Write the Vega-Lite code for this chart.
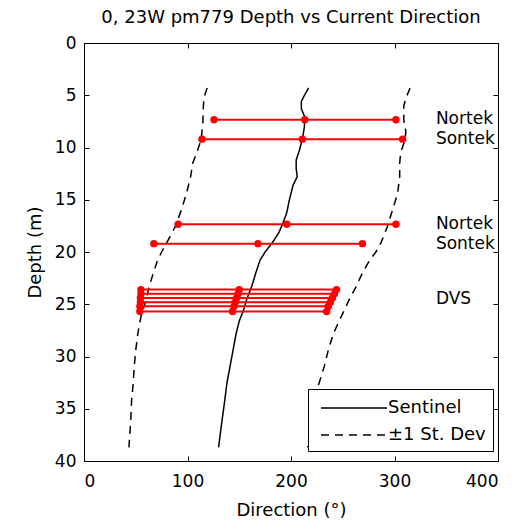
{
  "$schema": "https://vega.github.io/schema/vega-lite/v6.json",
  "width": 414,
  "height": 418,
  "autosize": "none",
  "padding": {"left": 84, "top": 43, "right": 29, "bottom": 61},
  "background": "white",
  "title": {"text": "0, 23W pm779 Depth vs Current Direction", "font": "DejaVu Sans", "fontSize": 18, "fontWeight": "normal", "color": "black", "offset": 7, "anchor": "middle"},
  "config": {
    "view": {"stroke": "black", "strokeWidth": 1},
    "axis": {"grid": false, "domainColor": "black", "tickColor": "black", "labelColor": "black", "titleColor": "black", "labelFont": "DejaVu Sans", "labelFontSize": 17, "titleFont": "DejaVu Sans", "titleFontSize": 18, "titleFontWeight": "normal", "tickSize": -5, "domain": true}
  },
  "datasets": {
    "profiles": [
      {"curve": "mean", "kind": "Sentinel", "depth": 4.3, "dir": 217},
      {"curve": "mean", "kind": "Sentinel", "depth": 5.0, "dir": 213},
      {"curve": "mean", "kind": "Sentinel", "depth": 5.6, "dir": 210},
      {"curve": "mean", "kind": "Sentinel", "depth": 6.3, "dir": 210},
      {"curve": "mean", "kind": "Sentinel", "depth": 7.0, "dir": 213},
      {"curve": "mean", "kind": "Sentinel", "depth": 8.0, "dir": 213},
      {"curve": "mean", "kind": "Sentinel", "depth": 9.2, "dir": 211},
      {"curve": "mean", "kind": "Sentinel", "depth": 10.3, "dir": 208},
      {"curve": "mean", "kind": "Sentinel", "depth": 11.2, "dir": 205},
      {"curve": "mean", "kind": "Sentinel", "depth": 12.0, "dir": 205},
      {"curve": "mean", "kind": "Sentinel", "depth": 12.8, "dir": 206},
      {"curve": "mean", "kind": "Sentinel", "depth": 13.6, "dir": 202},
      {"curve": "mean", "kind": "Sentinel", "depth": 14.4, "dir": 200},
      {"curve": "mean", "kind": "Sentinel", "depth": 15.2, "dir": 198},
      {"curve": "mean", "kind": "Sentinel", "depth": 16.2, "dir": 196},
      {"curve": "mean", "kind": "Sentinel", "depth": 17.3, "dir": 192},
      {"curve": "mean", "kind": "Sentinel", "depth": 18.2, "dir": 188},
      {"curve": "mean", "kind": "Sentinel", "depth": 19.1, "dir": 182},
      {"curve": "mean", "kind": "Sentinel", "depth": 20.0, "dir": 175},
      {"curve": "mean", "kind": "Sentinel", "depth": 20.8, "dir": 170},
      {"curve": "mean", "kind": "Sentinel", "depth": 22.0, "dir": 166},
      {"curve": "mean", "kind": "Sentinel", "depth": 23.3, "dir": 162},
      {"curve": "mean", "kind": "Sentinel", "depth": 24.6, "dir": 157},
      {"curve": "mean", "kind": "Sentinel", "depth": 25.6, "dir": 154},
      {"curve": "mean", "kind": "Sentinel", "depth": 26.6, "dir": 150},
      {"curve": "mean", "kind": "Sentinel", "depth": 27.8, "dir": 147},
      {"curve": "mean", "kind": "Sentinel", "depth": 29.4, "dir": 144},
      {"curve": "mean", "kind": "Sentinel", "depth": 31.0, "dir": 141},
      {"curve": "mean", "kind": "Sentinel", "depth": 32.6, "dir": 138},
      {"curve": "mean", "kind": "Sentinel", "depth": 34.2, "dir": 136},
      {"curve": "mean", "kind": "Sentinel", "depth": 36.4, "dir": 133},
      {"curve": "mean", "kind": "Sentinel", "depth": 38.7, "dir": 130},
      {"curve": "lo", "kind": "±1 St. Dev", "depth": 4.3, "dir": 119},
      {"curve": "lo", "kind": "±1 St. Dev", "depth": 5.2, "dir": 116},
      {"curve": "lo", "kind": "±1 St. Dev", "depth": 6.5, "dir": 115},
      {"curve": "lo", "kind": "±1 St. Dev", "depth": 7.4, "dir": 115},
      {"curve": "lo", "kind": "±1 St. Dev", "depth": 8.5, "dir": 114},
      {"curve": "lo", "kind": "±1 St. Dev", "depth": 9.3, "dir": 113},
      {"curve": "lo", "kind": "±1 St. Dev", "depth": 10.5, "dir": 109},
      {"curve": "lo", "kind": "±1 St. Dev", "depth": 11.5, "dir": 105},
      {"curve": "lo", "kind": "±1 St. Dev", "depth": 12.8, "dir": 103},
      {"curve": "lo", "kind": "±1 St. Dev", "depth": 14.4, "dir": 99},
      {"curve": "lo", "kind": "±1 St. Dev", "depth": 16.0, "dir": 94},
      {"curve": "lo", "kind": "±1 St. Dev", "depth": 17.6, "dir": 88},
      {"curve": "lo", "kind": "±1 St. Dev", "depth": 19.1, "dir": 80},
      {"curve": "lo", "kind": "±1 St. Dev", "depth": 20.0, "dir": 75},
      {"curve": "lo", "kind": "±1 St. Dev", "depth": 20.8, "dir": 71},
      {"curve": "lo", "kind": "±1 St. Dev", "depth": 22.0, "dir": 67},
      {"curve": "lo", "kind": "±1 St. Dev", "depth": 23.3, "dir": 63},
      {"curve": "lo", "kind": "±1 St. Dev", "depth": 24.6, "dir": 60},
      {"curve": "lo", "kind": "±1 St. Dev", "depth": 26.2, "dir": 55},
      {"curve": "lo", "kind": "±1 St. Dev", "depth": 27.8, "dir": 52},
      {"curve": "lo", "kind": "±1 St. Dev", "depth": 29.4, "dir": 50},
      {"curve": "lo", "kind": "±1 St. Dev", "depth": 31.0, "dir": 48.5},
      {"curve": "lo", "kind": "±1 St. Dev", "depth": 32.6, "dir": 47.5},
      {"curve": "lo", "kind": "±1 St. Dev", "depth": 34.2, "dir": 46},
      {"curve": "lo", "kind": "±1 St. Dev", "depth": 36.4, "dir": 45},
      {"curve": "lo", "kind": "±1 St. Dev", "depth": 38.7, "dir": 43.4},
      {"curve": "hi", "kind": "±1 St. Dev", "depth": 4.3, "dir": 315},
      {"curve": "hi", "kind": "±1 St. Dev", "depth": 5.3, "dir": 311},
      {"curve": "hi", "kind": "±1 St. Dev", "depth": 6.0, "dir": 309},
      {"curve": "hi", "kind": "±1 St. Dev", "depth": 7.4, "dir": 309},
      {"curve": "hi", "kind": "±1 St. Dev", "depth": 8.5, "dir": 311},
      {"curve": "hi", "kind": "±1 St. Dev", "depth": 9.3, "dir": 310},
      {"curve": "hi", "kind": "±1 St. Dev", "depth": 10.5, "dir": 306},
      {"curve": "hi", "kind": "±1 St. Dev", "depth": 11.5, "dir": 305},
      {"curve": "hi", "kind": "±1 St. Dev", "depth": 12.8, "dir": 305},
      {"curve": "hi", "kind": "±1 St. Dev", "depth": 14.4, "dir": 303},
      {"curve": "hi", "kind": "±1 St. Dev", "depth": 16.0, "dir": 298},
      {"curve": "hi", "kind": "±1 St. Dev", "depth": 17.6, "dir": 293},
      {"curve": "hi", "kind": "±1 St. Dev", "depth": 19.1, "dir": 287},
      {"curve": "hi", "kind": "±1 St. Dev", "depth": 20.0, "dir": 282},
      {"curve": "hi", "kind": "±1 St. Dev", "depth": 20.8, "dir": 276},
      {"curve": "hi", "kind": "±1 St. Dev", "depth": 22.0, "dir": 269},
      {"curve": "hi", "kind": "±1 St. Dev", "depth": 23.3, "dir": 263},
      {"curve": "hi", "kind": "±1 St. Dev", "depth": 24.6, "dir": 256},
      {"curve": "hi", "kind": "±1 St. Dev", "depth": 26.5, "dir": 247},
      {"curve": "hi", "kind": "±1 St. Dev", "depth": 27.8, "dir": 241},
      {"curve": "hi", "kind": "±1 St. Dev", "depth": 29.4, "dir": 236},
      {"curve": "hi", "kind": "±1 St. Dev", "depth": 31.0, "dir": 232},
      {"curve": "hi", "kind": "±1 St. Dev", "depth": 32.9, "dir": 226},
      {"curve": "hi", "kind": "±1 St. Dev", "depth": 35.0, "dir": 222},
      {"curve": "hi", "kind": "±1 St. Dev", "depth": 38.7, "dir": 216}
    ],
    "instruments": [
      {"id": "N1", "depth": 7.35, "dir": 125.6},
      {"id": "N1", "depth": 7.35, "dir": 213.3},
      {"id": "N1", "depth": 7.35, "dir": 301.4},
      {"id": "S1", "depth": 9.2, "dir": 114},
      {"id": "S1", "depth": 9.2, "dir": 211},
      {"id": "S1", "depth": 9.2, "dir": 307.8},
      {"id": "N2", "depth": 17.35, "dir": 90.9},
      {"id": "N2", "depth": 17.35, "dir": 196},
      {"id": "N2", "depth": 17.35, "dir": 301.4},
      {"id": "S2", "depth": 19.2, "dir": 67.5},
      {"id": "S2", "depth": 19.2, "dir": 168},
      {"id": "S2", "depth": 19.2, "dir": 269},
      {"id": "D1", "depth": 23.6, "dir": 55},
      {"id": "D1", "depth": 23.6, "dir": 150},
      {"id": "D1", "depth": 23.6, "dir": 244},
      {"id": "D2", "depth": 24.0, "dir": 55},
      {"id": "D2", "depth": 24.0, "dir": 149},
      {"id": "D2", "depth": 24.0, "dir": 242},
      {"id": "D3", "depth": 24.4, "dir": 54.5},
      {"id": "D3", "depth": 24.4, "dir": 147.5},
      {"id": "D3", "depth": 24.4, "dir": 240},
      {"id": "D4", "depth": 24.8, "dir": 54.5},
      {"id": "D4", "depth": 24.8, "dir": 146},
      {"id": "D4", "depth": 24.8, "dir": 238},
      {"id": "D5", "depth": 25.2, "dir": 54},
      {"id": "D5", "depth": 25.2, "dir": 145},
      {"id": "D5", "depth": 25.2, "dir": 236},
      {"id": "D6", "depth": 25.7, "dir": 54},
      {"id": "D6", "depth": 25.7, "dir": 143.5},
      {"id": "D6", "depth": 25.7, "dir": 234.5}
    ],
    "labels": [
      {"label": "Nortek", "depth": 7.3, "dir": 340},
      {"label": "Sontek", "depth": 9.2, "dir": 340},
      {"label": "Nortek", "depth": 17.3, "dir": 340},
      {"label": "Sontek", "depth": 19.2, "dir": 340},
      {"label": "DVS", "depth": 24.5, "dir": 340}
    ]
  },
  "layer": [
    {
      "data": {"name": "profiles"},
      "mark": {"type": "line", "color": "black", "strokeWidth": 1.5},
      "encoding": {
        "x": {"field": "dir", "type": "quantitative", "scale": {"domain": [0, 400], "nice": false}, "axis": {"orient": "bottom", "title": "Direction (°)", "values": [0, 100, 200, 300, 400], "labelPadding": 17, "titlePadding": 12}},
        "y": {"field": "depth", "type": "quantitative", "scale": {"domain": [0, 40], "reverse": true, "nice": false}, "axis": {"orient": "left", "title": "Depth (m)", "values": [0, 5, 10, 15, 20, 25, 30, 35, 40], "labelPadding": 13, "titlePadding": 10}},
        "detail": {"field": "curve"},
        "order": {"field": "depth", "type": "quantitative"},
        "strokeDash": {
          "field": "kind", "type": "nominal",
          "scale": {"domain": ["Sentinel", "±1 St. Dev"], "range": [[1, 0], [8, 6]]},
          "legend": {"title": null, "orient": "none", "legendX": 224, "legendY": 346, "fillColor": "white", "strokeColor": "black", "padding": 7, "symbolType": "M-3,0H3", "symbolSize": 484, "symbolOffset": 27, "symbolStrokeColor": "black", "symbolStrokeWidth": 1.5, "labelFont": "DejaVu Sans", "labelFontSize": 18, "labelColor": "black", "labelOffset": 22, "rowPadding": 6}
        }
      }
    },
    {
      "data": {"name": "instruments"},
      "mark": {"type": "line", "color": "#ff0000", "strokeWidth": 2},
      "encoding": {
        "x": {"field": "dir", "type": "quantitative", "axis": {"orient": "top", "labels": false, "title": null, "values": [0, 100, 200, 300, 400]}},
        "y": {"field": "depth", "type": "quantitative", "axis": {"orient": "right", "labels": false, "title": null, "values": [0, 5, 10, 15, 20, 25, 30, 35, 40]}},
        "detail": {"field": "id"},
        "order": {"field": "dir", "type": "quantitative"}
      }
    },
    {
      "data": {"name": "instruments"},
      "mark": {"type": "circle", "color": "#ff0000", "opacity": 1, "size": 55},
      "encoding": {
        "x": {"field": "dir", "type": "quantitative", "axis": null},
        "y": {"field": "depth", "type": "quantitative", "axis": null}
      }
    },
    {
      "data": {"name": "labels"},
      "mark": {"type": "text", "align": "left", "baseline": "middle", "font": "DejaVu Sans", "fontSize": 17, "color": "black"},
      "encoding": {
        "x": {"field": "dir", "type": "quantitative", "axis": null},
        "y": {"field": "depth", "type": "quantitative", "axis": null},
        "text": {"field": "label"}
      }
    }
  ],
  "resolve": {"axis": {"x": "independent", "y": "independent"}}
}
